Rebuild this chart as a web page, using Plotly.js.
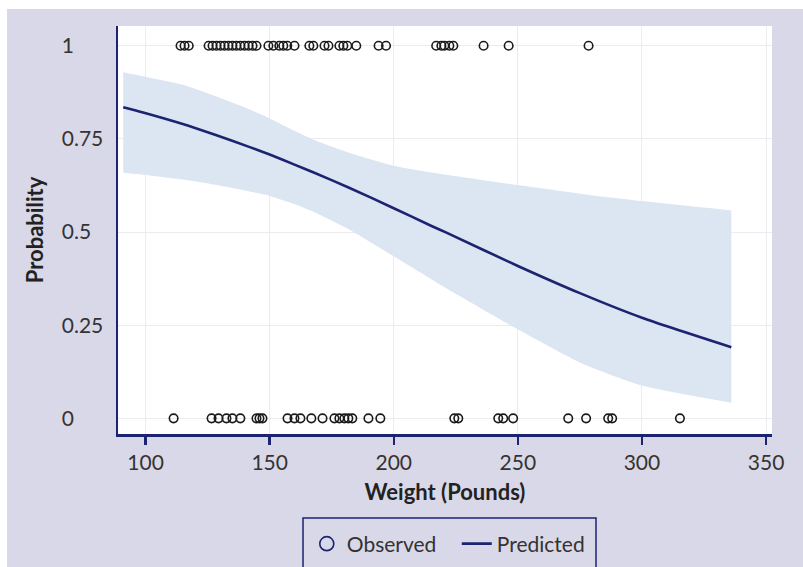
<!DOCTYPE html>
<html>
<head>
<meta charset="utf-8">
<script src="https://cdn.plot.ly/plotly-3.0.1.min.js"></script>
<style>
  html, body { margin: 0; padding: 0; background: #ffffff; }
  #chart { position: absolute; left: 7px; top: 9px; width: 796px; height: 558px; }
</style>
</head>
<body>
<div id="chart"></div>
<script>
// Observed outcomes (weight in pounds, outcome 0/1)
const obsWeight = [
  114.1, 115.7, 117.4,
  125.4, 127.0, 128.6, 130.2, 131.8, 133.4, 135.0, 136.6, 138.2, 139.9, 141.5, 143.1, 144.7,
  149.5, 151.5, 153.9, 155.5, 157.1, 160.0,
  166.0, 167.6, 172.1, 173.7, 178.1, 179.7, 181.3, 184.9,
  193.9, 196.9, 217.1, 219.2, 220.4, 222.4, 224.0, 236.2, 246.3, 278.5,
  111.3, 126.6, 129.4, 132.6, 135.0, 138.2, 144.7, 145.9, 147.1, 157.2, 160.0, 162.4,
  166.8, 171.3, 176.1, 178.1, 180.1, 181.7, 183.3, 189.8, 194.6, 224.4, 226.0,
  242.1, 244.1, 248.1, 270.3, 277.5, 286.4, 288.0, 315.3
];
const obsOutcome = [
  1, 1, 1,
  1, 1, 1, 1, 1, 1, 1, 1, 1, 1, 1, 1, 1,
  1, 1, 1, 1, 1, 1,
  1, 1, 1, 1, 1, 1, 1, 1,
  1, 1, 1, 1, 1, 1, 1, 1, 1, 1,
  0, 0, 0, 0, 0, 0, 0, 0, 0, 0, 0, 0,
  0, 0, 0, 0, 0, 0, 0, 0, 0, 0, 0,
  0, 0, 0, 0, 0, 0, 0, 0
];

// Predicted probability with confidence band
const predWeight = [91, 99, 115, 128, 142, 150, 160, 168, 182, 200, 215, 221, 250, 275, 300, 336];
const predProb   = [0.835, 0.821, 0.790, 0.761, 0.728, 0.708, 0.681, 0.659, 0.619, 0.564, 0.517, 0.499, 0.409, 0.336, 0.270, 0.191];
const ciUpper    = [0.929, 0.918, 0.895, 0.865, 0.829, 0.805, 0.772, 0.747, 0.713, 0.678, 0.660, 0.654, 0.626, 0.603, 0.583, 0.558];
const ciLower    = [0.659, 0.654, 0.641, 0.627, 0.609, 0.597, 0.575, 0.553, 0.507, 0.435, 0.374, 0.350, 0.239, 0.150, 0.088, 0.042];

// Axis ticks
const xTicks = [100, 150, 200, 250, 300, 350];
const xTickText = ['100', '150', '200', '250', '300', '350'];
const yTicks = [0, 0.25, 0.5, 0.75, 1];
const yTickText = ['0', '0.25', '0.5', '0.75', '1'];
// invisible filler so labels line up on the left like the reference
const yTickFill = ['.75', '', '0', '', '.75'];

const NAVY = '#1c2370';
const FONT = 'Lato, "Open Sans", sans-serif';

const yLabels = yTickText.map((t, i) =>
  yTickFill[i] ? t + '<span style="color:rgba(0,0,0,0)">' + yTickFill[i] + '</span>' : t);

const traces = [
  { x: predWeight, y: ciLower, type: 'scatter', mode: 'lines',
    line: { width: 0, shape: 'spline', smoothing: 0.6 }, hoverinfo: 'skip', showlegend: false },
  { x: predWeight, y: ciUpper, type: 'scatter', mode: 'lines', fill: 'tonexty',
    fillcolor: '#dce6f2', line: { width: 0, shape: 'spline', smoothing: 0.6 },
    hoverinfo: 'skip', showlegend: false },
  { x: obsWeight, y: obsOutcome, type: 'scatter', mode: 'markers', name: 'Observed',
    marker: { symbol: 'circle-open', size: 8.5, color: '#1a1a1a', line: { width: 1.6 } },
    showlegend: false },
  { x: [null], y: [null], type: 'scatter', mode: 'markers', name: 'Observed', legendrank: 1,
    marker: { symbol: 'circle-open', size: 14, color: NAVY, line: { width: 1.6 } } },
  { x: predWeight, y: predProb, type: 'scatter', mode: 'lines', name: 'Predicted', legendrank: 2,
    line: { color: NAVY, width: 2.6, shape: 'spline', smoothing: 0.6 } }
];

const layout = {
  width: 796, height: 558,
  margin: { l: 111, r: 31, t: 17, b: 133, autoexpand: false },
  paper_bgcolor: '#d9d8e8',
  plot_bgcolor: '#ffffff',
  font: { family: FONT, size: 21, color: '#333333' },
  xaxis: {
    range: [88.9, 352.4],
    tickvals: xTicks, ticktext: xTickText,
    ticks: 'outside', ticklen: 8, tickwidth: 2.5, tickcolor: NAVY,
    showline: true, linecolor: NAVY, linewidth: 2.5,
    showgrid: true, gridcolor: '#ebebf0', gridwidth: 1, zeroline: false,
    tickfont: { family: FONT, size: 21, color: '#333333' },
    title: { text: '<b>Weight (Pounds)</b>', font: { family: FONT, size: 22, color: '#222222' }, standoff: 12 }
  },
  yaxis: {
    range: [-0.042, 1.053],
    tickvals: yTicks, ticktext: yLabels,
    ticks: '', showline: true, linecolor: NAVY, linewidth: 2.5,
    showgrid: true, gridcolor: '#ebebf0', gridwidth: 1, zeroline: false,
    ticklabelstandoff: 8,
    tickfont: { family: FONT, size: 21, color: '#333333' },
    title: { text: '<b>Probability</b>', font: { family: FONT, size: 22, color: '#222222' }, standoff: 12 }
  },
  legend: {
    orientation: 'h', traceorder: 'normal',
    x: 0.518, xanchor: 'center', y: -0.2696, yanchor: 'middle',
    entrywidth: 105, entrywidthmode: 'pixels',
    bgcolor: 'rgba(0,0,0,0)', borderwidth: 0,
    font: { family: FONT, size: 21, color: '#333333' }
  },
  shapes: [
    { type: 'rect', xref: 'paper', yref: 'paper', x0: 0.2829, x1: 0.7309, y0: -0.2059, y1: -0.345,
      line: { color: NAVY, width: 1.5 }, fillcolor: 'rgba(0,0,0,0)' }
  ],
  showlegend: true
};

Plotly.newPlot('chart', traces, layout, { displayModeBar: false, staticPlot: true });
</script>
</body>
</html>
